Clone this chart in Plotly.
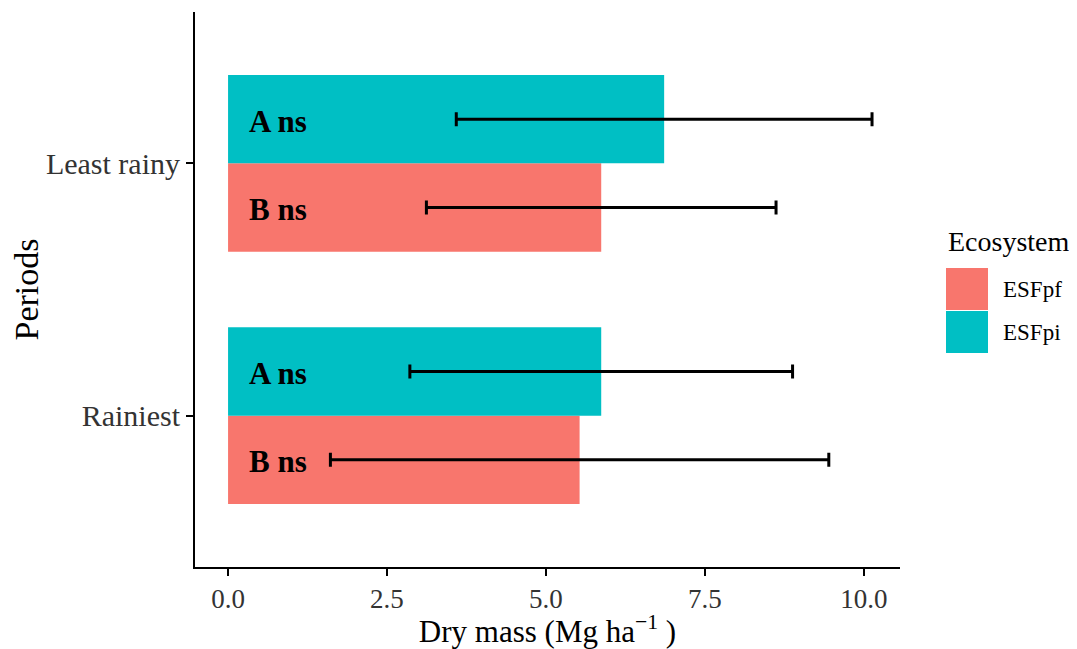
import plotly.graph_objects as go

periods = ["Rainiest", "Least rainy"]
series = ["ESFpf", "ESFpi"]
esfpf_mean = [5.53, 5.87]
esfpf_err = [3.92, 2.75]
esfpi_mean = [5.87, 6.86]
esfpi_err = [3.01, 3.27]
labels_pf = ["B ns", "B ns"]
labels_pi = ["A ns", "A ns"]
colors = {"ESFpf": "#F8766D", "ESFpi": "#00BFC4"}

FONT = "Liberation Serif"

fig = go.Figure()
for name, mean, err in [("ESFpf", esfpf_mean, esfpf_err), ("ESFpi", esfpi_mean, esfpi_err)]:
    fig.add_trace(go.Bar(
        y=periods, x=mean, orientation="h", name=name,
        marker=dict(color=colors[name], line=dict(width=0)),
        error_x=dict(type="data", array=err, visible=True, color="black", thickness=3, width=7),
        showlegend=False,
    ))

# text labels inside bars
for i, p in enumerate(periods):
    fig.add_annotation(x=0.3, y=i - 0.175, xref="x", yref="y", text="<b>%s</b>" % labels_pf[i],
                       showarrow=False, xanchor="left", yanchor="middle", yshift=-2,
                       font=dict(family=FONT, size=31, color="black"))
    fig.add_annotation(x=0.3, y=i + 0.175, xref="x", yref="y", text="<b>%s</b>" % labels_pi[i],
                       showarrow=False, xanchor="left", yanchor="middle", yshift=-2,
                       font=dict(family=FONT, size=31, color="black"))

# page is offset by the 8px body margin; plot area in page pixels
OFF = 8
L, R, T, B = 195, 900, 12, 567
def px(x):
    return (x - L) / (R - L)
def py(y):
    return (B - y) / (B - T)

fig.add_annotation(x=px(946), y=py(241), xref="paper", yref="paper", text="Ecosystem",
                   showarrow=False, xanchor="left", yanchor="middle",
                   font=dict(family=FONT, size=28, color="black"))
for k, name in enumerate(series):
    top = 268 + k * 43
    fig.add_shape(type="rect", xref="paper", yref="paper",
                  x0=px(946), x1=px(988), y0=py(top + 42), y1=py(top),
                  fillcolor=colors[name], line=dict(width=0))
    fig.add_annotation(x=px(1001), y=py(top + 21), xref="paper", yref="paper", text=name,
                       showarrow=False, xanchor="left", yanchor="middle",
                       font=dict(family=FONT, size=23, color="black"))

fig.update_layout(
    width=1077 - OFF, height=649 - OFF,
    margin=dict(l=L - OFF, r=1077 - R, t=T - OFF, b=649 - B),
    barmode="group", bargap=0.3, bargroupgap=0,
    plot_bgcolor="white", paper_bgcolor="white",
    font=dict(family=FONT, color="black"),
)
fig.update_xaxes(
    range=[-0.52, 10.57], tick0=0, dtick=2.5, tickformat=".1f",
    showgrid=False, zeroline=False, showline=True, linecolor="black", linewidth=2,
    ticks="outside", ticklen=7, tickwidth=2, tickcolor="black",
    tickfont=dict(family=FONT, size=27, color="#333333"),
    title=dict(text="Dry mass (Mg ha<sup>−1</sup> )", font=dict(family=FONT, size=31, color="black"), standoff=5),
    automargin=False,
)
fig.update_yaxes(
    range=[-0.6, 1.6], categoryorder="array", categoryarray=periods,
    showgrid=False, zeroline=False, showline=True, linecolor="black", linewidth=2,
    ticks="outside", ticklen=7, tickwidth=2, tickcolor="black",
    tickfont=dict(family=FONT, size=30, color="#333333"),
    title=dict(text="Periods", font=dict(family=FONT, size=34, color="black"), standoff=10),
    automargin=False,
)

fig.write_html("out.html")
